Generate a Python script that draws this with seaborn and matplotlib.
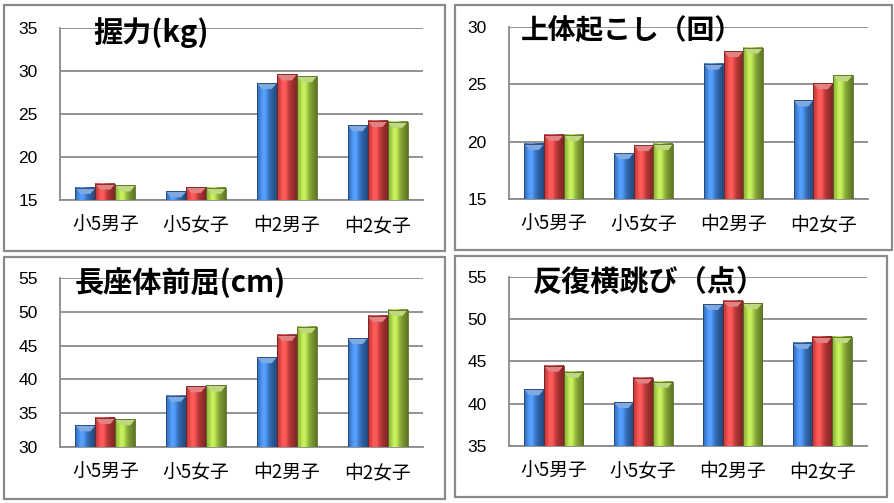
import numpy as np
import pandas as pd
import matplotlib
matplotlib.use("Agg")
import matplotlib.pyplot as plt
import seaborn as sns
from matplotlib.patches import Rectangle, Polygon
from matplotlib.colors import to_rgb

sns.set_theme(style="white")
plt.rcParams['font.family'] = ['Noto Sans CJK JP', 'DejaVu Sans']

categories = ['小5男子', '小5女子', '中2男子', '中2女子']
series_names = ['系列1', '系列2', '系列3']

grip = [[16.4, 16.0, 28.6, 23.7],
        [16.9, 16.5, 29.6, 24.2],
        [16.7, 16.4, 29.4, 24.1]]
situp = [[19.8, 19.0, 26.8, 23.6],
         [20.6, 19.7, 27.9, 25.1],
         [20.6, 19.8, 28.2, 25.8]]
sitreach = [[33.2, 37.6, 43.3, 46.1],
            [34.3, 39.0, 46.6, 49.4],
            [34.1, 39.1, 47.8, 50.3]]
sidestep = [[41.7, 40.2, 51.8, 47.2],
            [44.5, 43.1, 52.2, 47.9],
            [43.8, 42.6, 51.9, 47.9]]

titles = ['握力(kg)', '上体起こし（回）', '長座体前屈(cm)', '反復横跳び（点）']
datasets = [grip, situp, sitreach, sidestep]
ylims = [(15, 35), (15, 30), (30, 55), (35, 55)]

colors = ['#3a7bd0', '#d33f3f', '#9dc43f']

W, H = 895, 503
fig = plt.figure(figsize=(W / 100, H / 100), dpi=100)
fig.patch.set_facecolor('white')

# axes boxes in pixels: left, right, top, bottom
axboxes = [(60, 423, 28, 200), (509, 868, 27, 199),
           (60, 423, 278, 447), (509, 867, 277, 446)]
borders = [(4.5, 445, 4.5, 250.5), (455, 892, 4.5, 250),
           (4.5, 445, 257, 499), (455, 887, 256, 497)]
title_pos = [(93, 33), (521, 32), (75, 283), (533, 282)]
title_sizes = [21, 20, 21, 21]

for i in range(4):
    bx0, bx1, by0, by1 = borders[i]
    fig.add_artist(Rectangle((bx0 / W, 1 - by1 / H), (bx1 - bx0) / W, (by1 - by0) / H,
                             transform=fig.transFigure, fill=False,
                             edgecolor='#8a8a8a', linewidth=1.6))
    l, r, t, b = axboxes[i]
    ax = fig.add_axes([l / W, 1 - b / H, (r - l) / W, (b - t) / H])
    rows = []
    for s, name in enumerate(series_names):
        for c, cat in enumerate(categories):
            rows.append({'cat': cat, 'series': name, 'val': datasets[i][s][c]})
    df = pd.DataFrame(rows)
    sns.barplot(data=df, x='cat', y='val', hue='series', palette=colors,
                width=0.66, saturation=1, ax=ax, legend=False,
                edgecolor='none', linewidth=0, zorder=3)
    lo, hi = ylims[i]
    px_per_unit = (b - t) / (hi - lo)
    px_per_cat = (r - l) / 4.0
    # gradient overlay (clipped to visible range)
    for j, p in enumerate(list(ax.patches)):
        x, y = p.get_x(), p.get_y()
        w, h = p.get_width(), p.get_height()
        if w == 0 or h == 0:
            continue
        y0 = max(y, lo)
        y1 = y + h
        base = np.array(to_rgb(p.get_facecolor()))
        tt = np.linspace(0, 1, 64)
        prof = 0.85 + 0.3 * np.exp(-((tt - 0.35) / 0.25) ** 2) - 0.25 * tt ** 3
        img = np.clip(base[None, :] * prof[:, None]
                      + 0.08 * np.exp(-((tt - 0.35) / 0.2) ** 2)[:, None], 0, 1)
        img = img[None, :, :]
        ax.imshow(img, extent=[x, x + w, y0, y1], aspect='auto',
                  zorder=3.5, interpolation='bilinear')
        # light bevel at the top of the bar
        cap = 6.0 / px_per_unit
        inset = 5.0 / px_per_cat
        light = tuple(np.clip(base + (1 - base) * 0.35, 0, 1))
        ax.add_patch(Polygon([(x, y1), (x + w, y1), (x + w - inset, y1 - cap),
                              (x + inset, y1 - cap)], closed=True,
                             facecolor=light, edgecolor='none', zorder=3.55))
        ax.add_patch(Rectangle((x, y0), w, y1 - y0, fill=False,
                               edgecolor=tuple(base * 0.55), linewidth=0.6, zorder=3.6))
    ax.set_xlim(-0.5, 3.5)
    ax.set_ylim(lo, hi)
    ax.set_xticks(range(len(categories)))
    ax.set_xticklabels(categories)
    ax.set_yticks(np.arange(lo, hi + 0.1, 5))
    ax.yaxis.grid(True, color='#8a8a8a', linewidth=1.3)
    ax.set_axisbelow(True)
    ax.set_xlabel('')
    ax.set_ylabel('')
    for sp in ['top', 'right']:
        ax.spines[sp].set_visible(False)
    for sp in ['left', 'bottom']:
        ax.spines[sp].set_color('#8a8a8a')
        ax.spines[sp].set_linewidth(1.3)
    ax.set_xticks(np.arange(-0.5, 3.6, 1.0), minor=True)
    ax.tick_params(axis='x', which='major', length=0, pad=11, labelsize=13.5, labelcolor='black')
    ax.tick_params(axis='x', which='minor', length=4, width=1.3, color='#8a8a8a', direction='out')
    ax.tick_params(axis='y', which='major', length=5, width=1.3, color='#8a8a8a',
                   direction='out', pad=11, labelsize=12.5, labelcolor='black')
    for lab in ax.get_yticklabels():
        lab.set_fontfamily(['Liberation Sans', 'DejaVu Sans'])
    ax.patch.set_alpha(0)
    tx, ty = title_pos[i]
    fig.text(tx / W, 1 - ty / H, titles[i], fontsize=title_sizes[i], fontweight='bold',
             va='center', ha='left', color='black',
             family=['Noto Sans CJK JP', 'DejaVu Sans'])

fig.savefig('out.png', dpi=100, facecolor='white')
